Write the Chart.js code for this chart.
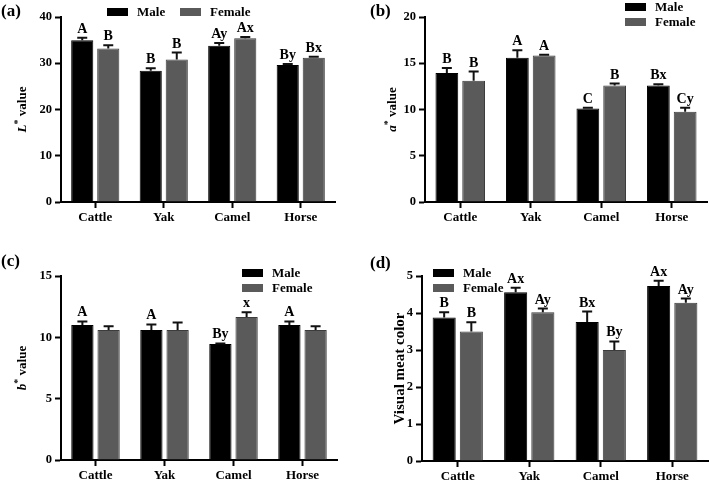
<!DOCTYPE html>
<html>
<head>
<meta charset="utf-8">
<script src="https://cdn.jsdelivr.net/npm/chart.js@4.4.1/dist/chart.umd.min.js"></script>
<style>
  html, body { margin: 0; padding: 0; background: #fff; }
  #grid { position: relative; width: 709px; height: 484px; overflow: hidden; }
  #grid canvas { position: absolute; }
</style>
</head>
<body>
<div id="grid">
  <canvas id="chartA" width="355" height="242" style="left:0;top:0"></canvas>
  <canvas id="chartB" width="354" height="242" style="left:355px;top:0"></canvas>
  <canvas id="chartC" width="355" height="242" style="left:0;top:242px"></canvas>
  <canvas id="chartD" width="354" height="242" style="left:355px;top:242px"></canvas>
</div>
<script>
// Data
const categories = ["Cattle", "Yak", "Camel", "Horse"];
const seriesNames = ["Male", "Female"];

// (a) L* value
const lMale = [35.0, 28.4, 33.8, 29.6];
const lMaleSd = [0.5, 0.5, 0.6, 0.25];
const lFemale = [33.2, 30.8, 35.4, 31.2];
const lFemaleSd = [0.7, 1.5, 0.3, 0.2];
const lMaleLetters = ["A", "B", "Ay", "By"];
const lFemaleLetters = ["B", "B", "Ax", "Bx"];

// (b) a* value
const aMale = [13.95, 15.6, 10.1, 12.6];
const aMaleSd = [0.55, 0.8, 0.1, 0.12];
const aFemale = [13.1, 15.83, 12.6, 9.75];
const aFemaleSd = [1.0, 0.1, 0.2, 0.45];
const aMaleLetters = ["B", "A", "C", "Bx"];
const aFemaleLetters = ["B", "A", "B", "Cy"];

// (c) b* value
const bMale = [11.0, 10.6, 9.45, 11.0];
const bMaleSd = [0.3, 0.45, 0.05, 0.3];
const bFemale = [10.6, 10.6, 11.65, 10.6];
const bFemaleSd = [0.3, 0.6, 0.4, 0.3];
const bMaleLetters = ["A", "A", "By", "A"];
const bFemaleLetters = ["", "", "x", ""];

// (d) visual meat color
const vMale = [3.88, 4.56, 3.76, 4.73];
const vMaleSd = [0.14, 0.12, 0.28, 0.14];
const vFemale = [3.5, 4.02, 3.0, 4.28];
const vFemaleSd = [0.25, 0.1, 0.23, 0.11];
const vMaleLetters = ["B", "Ax", "Bx", "Ax"];
const vFemaleLetters = ["B", "Ay", "By", "Ay"];

const serif = '"Liberation Serif", "Times New Roman", serif';
const maleColor = "#000000";
const femaleColor = "#5a5a5a";

// y title: "X* value" gets an italic X and a raised star
function drawYTitle(ctx, text, cx, cy, size) {
  const m = text.match(/^(\w)\* (.*)$/);
  const parts = m
    ? [{ t: m[1], f: "italic bold " + size + "px " + serif, dy: 0 },
       { t: "*", f: "bold " + Math.round(size * 0.75) + "px " + serif, dy: -size * 0.35 },
       { t: " " + m[2], f: "bold " + size + "px " + serif, dy: 0 }]
    : [{ t: text, f: "bold " + size + "px " + serif, dy: 0 }];
  let total = 0;
  parts.forEach((p) => { ctx.font = p.f; p.w = ctx.measureText(p.t).width; total += p.w; });
  ctx.save();
  ctx.translate(cx, cy);
  ctx.rotate(-Math.PI / 2);
  ctx.fillStyle = "#000";
  ctx.textBaseline = "middle";
  ctx.textAlign = "left";
  let x = -total / 2;
  parts.forEach((p) => { ctx.font = p.f; ctx.fillText(p.t, x, p.dy); x += p.w; });
  ctx.restore();
}

/* =========================
   ERROR BARS, LETTERS, TAG, LEGEND
========================= */
const extras = {
  id: "extras",
  afterDatasetsDraw(chart) {
    const ctx = chart.ctx;
    const y = chart.scales.y;
    chart.data.datasets.forEach((ds, i) => {
      chart.getDatasetMeta(i).data.forEach((bar, j) => {
        const top = y.getPixelForValue(ds.data[j] + ds.sd[j]);
        ctx.save();
        ctx.strokeStyle = "#111";
        ctx.lineWidth = 2;
        ctx.beginPath();
        ctx.moveTo(bar.x, bar.y);
        ctx.lineTo(bar.x, top);
        ctx.moveTo(bar.x - 5, top);
        ctx.lineTo(bar.x + 5, top);
        ctx.stroke();
        if (ds.letters[j]) {
          ctx.fillStyle = "#000";
          ctx.font = "bold 14px " + serif;
          ctx.textAlign = "center";
          ctx.textBaseline = "alphabetic";
          ctx.fillText(ds.letters[j], bar.x, top - 5);
        }
        ctx.restore();
      });
    });
  },
  afterDraw(chart) {
    const ctx = chart.ctx;
    const p = chart.options.plugins.extras;
    const area = chart.chartArea;
    drawYTitle(ctx, p.title, p.titleX, (area.top + area.bottom) / 2, p.titleSize);
    ctx.save();
    // panel tag
    ctx.fillStyle = "#000";
    ctx.font = "bold 17px " + serif;
    ctx.textBaseline = "top";
    ctx.textAlign = "left";
    ctx.fillText(p.tag, p.tagX, p.tagY);
    // legend
    const lg = p.legend;
    ctx.font = "bold 13px " + serif;
    ctx.textBaseline = "middle";
    let x = lg.x, yy = lg.y;
    chart.data.datasets.forEach((ds) => {
      ctx.fillStyle = ds.backgroundColor;
      ctx.fillRect(x, yy - 4, 21, 8);
      ctx.fillStyle = "#000";
      ctx.fillText(ds.label, x + 30, yy + 1);
      if (lg.dir === "h") x += 73;
      else yy += 15;
    });
    ctx.restore();
  }
};

function makePanel(id, cfg) {
  new Chart(document.getElementById(id), {
    type: "bar",
    data: {
      labels: categories,
      datasets: [
        {
          label: seriesNames[0], data: cfg.male, sd: cfg.maleSd, letters: cfg.maleLetters,
          backgroundColor: maleColor, borderColor: "#000", borderWidth: 1,
          categoryPercentage: 0.76, barPercentage: 0.85
        },
        {
          label: seriesNames[1], data: cfg.female, sd: cfg.femaleSd, letters: cfg.femaleLetters,
          backgroundColor: femaleColor, borderColor: "#3c3c3c", borderWidth: 1,
          categoryPercentage: 0.76, barPercentage: 0.85
        }
      ]
    },
    options: {
      responsive: false,
      animation: false,
      layout: { padding: { left: 0, top: cfg.top, right: cfg.W - cfg.right, bottom: 0 } },
      plugins: {
        legend: { display: false },
        tooltip: { enabled: false },
        extras: {
          tag: cfg.tag, tagX: cfg.tagX, tagY: cfg.tagY, legend: cfg.legend,
          title: cfg.title, titleX: cfg.titleX, titleSize: cfg.titleSize
        }
      },
      scales: {
        x: {
          grid: { display: true, drawOnChartArea: false, offset: false, tickLength: 6, tickWidth: 2, tickColor: "#000" },
          border: { color: "#000", width: 2 },
          ticks: { color: "#000", padding: 2, font: { family: serif, weight: "bold", size: 13 } },
          afterFit: (s) => { s.height = 242 - cfg.bottom; }
        },
        y: {
          min: 0, max: cfg.max,
          grid: { display: true, drawOnChartArea: false, tickLength: 6, tickWidth: 2, tickColor: "#000" },
          border: { color: "#000", width: 2 },
          ticks: { stepSize: cfg.step, color: "#000", padding: 3, font: { family: serif, weight: "bold", size: 12.5 } },
          afterFit: (s) => { s.width = cfg.left; }
        }
      }
    },
    plugins: [extras]
  });
}

makePanel("chartA", {
  W: 355, left: 61, top: 17, bottom: 202, right: 335, max: 40, step: 10,
  title: "L* value", titleSize: 13, titleX: 23,
  male: lMale, maleSd: lMaleSd, maleLetters: lMaleLetters,
  female: lFemale, femaleSd: lFemaleSd, femaleLetters: lFemaleLetters,
  tag: "(a)", tagX: 1, tagY: 3, legend: { x: 107, y: 12, dir: "h" }
});

makePanel("chartB", {
  W: 354, left: 70, top: 17, bottom: 202, right: 352, max: 20, step: 5,
  title: "a* value", titleSize: 13, titleX: 38,
  male: aMale, maleSd: aMaleSd, maleLetters: aMaleLetters,
  female: aFemale, femaleSd: aFemaleSd, femaleLetters: aFemaleLetters,
  tag: "(b)", tagX: 15, tagY: 3, legend: { x: 270, y: 7, dir: "v" }
});

makePanel("chartC", {
  W: 355, left: 61, top: 34, bottom: 218, right: 337, max: 15, step: 5,
  title: "b* value", titleSize: 13, titleX: 23,
  male: bMale, maleSd: bMaleSd, maleLetters: bMaleLetters,
  female: bFemale, femaleSd: bFemaleSd, femaleLetters: bFemaleLetters,
  tag: "(c)", tagX: 1, tagY: 11, legend: { x: 242, y: 31, dir: "v" }
});

makePanel("chartD", {
  W: 354, left: 67, top: 34, bottom: 219, right: 353, max: 5, step: 1,
  title: "Visual meat color", titleSize: 15, titleX: 45,
  male: vMale, maleSd: vMaleSd, maleLetters: vMaleLetters,
  female: vFemale, femaleSd: vFemaleSd, femaleLetters: vFemaleLetters,
  tag: "(d)", tagX: 15, tagY: 13, legend: { x: 78, y: 31, dir: "v" }
});
</script>
</body>
</html>
